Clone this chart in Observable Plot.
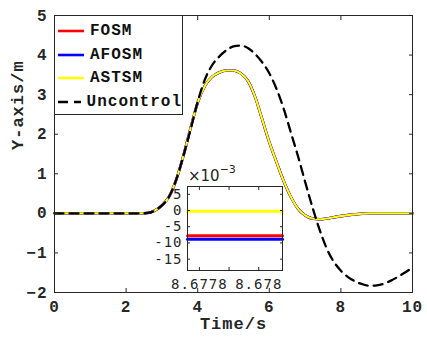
<!DOCTYPE html>
<html><head><meta charset="utf-8">
<script src="https://cdn.jsdelivr.net/npm/d3@7"></script>
<script src="https://cdn.jsdelivr.net/npm/@observablehq/plot@0.6"></script>
<style>
body{margin:0;background:#fff;}
#wrap{position:relative;width:427px;height:341px;overflow:hidden;background:#fff;}
#wrap > svg{position:absolute;}
#legend{position:absolute;left:54px;top:15px;width:129px;height:100px;box-sizing:border-box;border:1px solid #262626;background:#fff;padding-top:3px;}
#legend .row{height:23.7px;display:flex;align-items:center;font-family:'Liberation Mono',monospace;font-weight:bold;font-size:16px;letter-spacing:1px;color:#111;}
#legend svg{margin-left:3px;margin-right:6px;}
#exp{position:absolute;left:188px;top:166px;font-family:'DejaVu Sans',sans-serif;font-size:15px;color:#262626;line-height:1;}
#exp sup{font-size:11px;position:relative;top:-2px;}
</style></head><body><div id="wrap"><div id="legend"></div><div id="exp">×10<sup>−3</sup></div></div>
<script>
// ---- data ----
const seriesNames = ["FOSM", "AFOSM", "ASTSM", "Uncontrol"];
const seriesColors = ["#ff0000", "#0000ff", "#ffff00", "#000000"];
const time = [0,0.5,1,1.5,2, 2.2,2.4,2.6,2.8, 3.0,3.2,3.4,3.6,3.8, 4.0,4.2,4.4,4.6,4.8, 5.0,5.2,5.4,5.6,5.8, 6.0,6.2,6.4,6.6,6.8, 7.0,7.2,7.4,7.6,7.8, 8.0,8.2,8.4,8.6,8.8, 9.0,9.2,9.4,9.6,9.8, 10];
const fosm = [0,0,0,0,0, 0,0,0.01,0.07, 0.2,0.42,0.85,1.45,2.15, 2.8,3.22,3.45,3.56,3.61, 3.61,3.54,3.35,2.95,2.38, 1.8,1.3,0.82,0.42,0.12, -0.05,-0.13,-0.15,-0.13,-0.1, -0.07,-0.045,-0.025,-0.01,0, 0,0,0,0,0, 0];
const afosm = [0,0,0,0,0, 0,0,0.01,0.07, 0.2,0.42,0.85,1.45,2.15, 2.8,3.22,3.45,3.56,3.61, 3.61,3.54,3.35,2.95,2.38, 1.8,1.3,0.82,0.42,0.12, -0.05,-0.13,-0.15,-0.13,-0.1, -0.07,-0.045,-0.025,-0.01,0, 0,0,0,0,0, 0];
const astsm = [0,0,0,0,0, 0,0,0.01,0.07, 0.2,0.42,0.85,1.45,2.15, 2.8,3.22,3.45,3.56,3.61, 3.61,3.54,3.35,2.95,2.38, 1.8,1.3,0.82,0.42,0.12, -0.05,-0.13,-0.15,-0.13,-0.1, -0.07,-0.045,-0.025,-0.01,0, 0,0,0,0,0, 0];
const uncontrol = [0,0,0,0,0, 0,0,0.01,0.07, 0.2,0.42,0.85,1.45,2.12, 2.82,3.38,3.74,3.96,4.12, 4.22,4.24,4.18,4.03,3.82, 3.54,3.15,2.65,2.05,1.45, 0.8,0.17,-0.4,-0.88,-1.22, -1.45,-1.61,-1.72,-1.79,-1.83, -1.82,-1.78,-1.7,-1.6,-1.49, -1.37];
const xTicks = [0,2,4,6,8,10];
const yTicks = [-2,-1,0,1,2,3,4,5];
// inset (zoom near t = 8.678), values in units of 1e-3
const insetTime = [8.67776, 8.67808];
const insetFosm = [-7.8, -7.8];
const insetAfosm = [-8.9, -8.9];
const insetAstsm = [-0.2, -0.2];
const insetXTicks = [8.6778, 8.6779, 8.678];
const insetXLabels = {8.6778: "8.6778", 8.678: "8.678"};
const insetYTicks = [-15,-10,-5,0,5];

const rows = (xs, ys) => xs.map((t, i) => ({t, v: ys[i]}));

const wrap = document.getElementById("wrap");

// ---- main chart ----
const main = Plot.plot({
  width: 427, height: 341,
  marginLeft: 54, marginRight: 15, marginTop: 15, marginBottom: 49,
  x: {domain: [0, 10]},
  y: {domain: [-2, 5]},
  style: {fontFamily: "'Liberation Mono', monospace", fontSize: "16px", fontWeight: "bold", letterSpacing: "1px", color: "#262626", background: "transparent", overflow: "visible"},
  marks: [
    Plot.line(rows(time, fosm), {x: "t", y: "v", stroke: seriesColors[0], strokeWidth: 2.6, curve: "monotone-x"}),
    Plot.line(rows(time, afosm), {x: "t", y: "v", stroke: seriesColors[1], strokeWidth: 2.6, curve: "monotone-x"}),
    Plot.line(rows(time, astsm), {x: "t", y: "v", stroke: seriesColors[2], strokeWidth: 2.1, curve: "monotone-x"}),
    Plot.line(rows(time, uncontrol), {x: "t", y: "v", stroke: seriesColors[3], strokeWidth: 2.3, strokeDasharray: "9,6", curve: "monotone-x"}),
    Plot.axisX(xTicks, {anchor: "bottom", tickSize: -4, tickPadding: 12, label: null}),
    Plot.axisX(xTicks, {anchor: "top", tickSize: -4, tickFormat: () => "", label: null}),
    Plot.axisY(yTicks, {anchor: "left", tickSize: -4, tickPadding: 11, label: null}),
    Plot.axisY(yTicks, {anchor: "right", tickSize: -4, tickFormat: () => "", label: null}),
    Plot.frame({stroke: "#262626", strokeWidth: 1}),
    Plot.text(["Time/s"], {frameAnchor: "bottom", dy: 36, text: d => d, fontSize: 17, fill: "#262626"}),
    Plot.text(["Y-axis/m"], {frameAnchor: "left", dx: -37, dy: -4, rotate: -90, text: d => d, fontSize: 17, fill: "#262626"})
  ]
});
main.style.left = "0px"; main.style.top = "0px";
wrap.insertBefore(main, wrap.firstChild);

// ---- inset ----
const inset = Plot.plot({
  width: 140, height: 135,
  marginLeft: 37, marginRight: 8, marginTop: 21, marginBottom: 30,
  x: {domain: insetTime},
  y: {domain: [-18.5, 7.4]},
  style: {fontFamily: "'DejaVu Sans Mono', monospace", fontSize: "14px", letterSpacing: "1px", color: "#262626", background: "transparent", overflow: "visible"},
  marks: [
    Plot.frame({fill: "white"}),
    Plot.line(rows(insetTime, insetFosm), {x: "t", y: "v", stroke: seriesColors[0], strokeWidth: 3}),
    Plot.line(rows(insetTime, insetAfosm), {x: "t", y: "v", stroke: seriesColors[1], strokeWidth: 3}),
    Plot.line(rows(insetTime, insetAstsm), {x: "t", y: "v", stroke: seriesColors[2], strokeWidth: 3}),
    Plot.axisX(insetXTicks, {anchor: "bottom", tickSize: -3, tickPadding: 12, tickFormat: d => insetXLabels[d] || "", label: null}),
    Plot.axisX(insetXTicks, {anchor: "top", tickSize: -3, tickFormat: () => "", label: null}),
    Plot.axisY(insetYTicks, {anchor: "left", tickSize: -3, tickPadding: 8, tickFormat: d => d < 0 ? "-" + Math.abs(d) : String(d), label: null}),
    Plot.axisY(insetYTicks, {anchor: "right", tickSize: -3, tickFormat: () => "", label: null}),
    Plot.frame({stroke: "#262626", strokeWidth: 1})
  ]
});
inset.style.left = "150px"; inset.style.top = "165px";
wrap.appendChild(inset);

// ---- legend ----
const legend = document.getElementById("legend");
seriesNames.forEach((name, i) => {
  const row = document.createElement("div");
  row.className = "row";
  const dash = name === "Uncontrol" ? 'stroke-dasharray="10,6"' : "";
  row.innerHTML = `<svg width="26" height="6"><line x1="0" y1="3" x2="26" y2="3" stroke="${seriesColors[i]}" stroke-width="2.6" ${dash}/></svg><span>${name}</span>`;
  legend.appendChild(row);
});
</script>
</body></html>
